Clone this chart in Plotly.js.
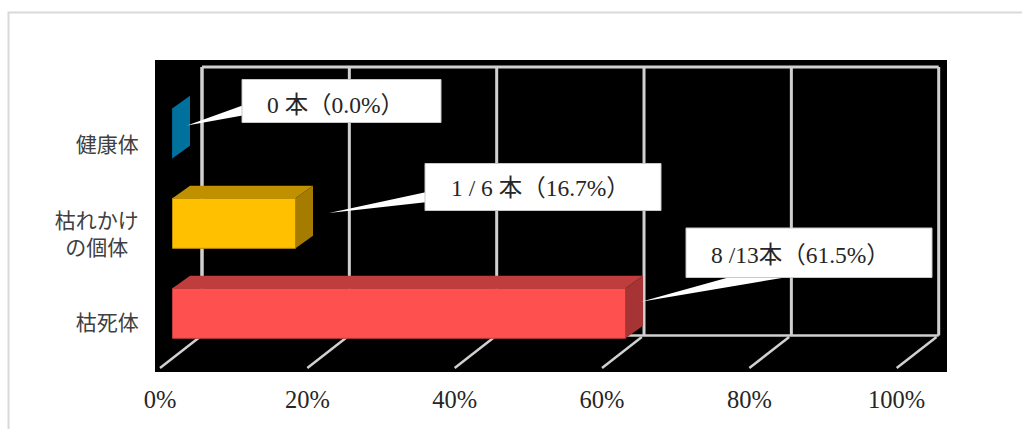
<!DOCTYPE html>
<html><head><meta charset="utf-8">
<script src="https://cdn.plot.ly/plotly-3.0.1.min.js"></script>
<style>html,body{margin:0;padding:0;background:#fff;overflow:hidden}</style>
</head><body><div id="chart" style="width:1022px;height:429px"></div>
<script>
const categories = ["枯死体", "枯れかけ<br>の個体\u2002", "健康体"];
const values = [61.5, 16.7, 0];
const frontColors = ["#FF5050", "#FFC000", "#00709C"];
const topColors = ["#BF3D3D", "#BF9000", "#005A7E"];
const sideColors = ["#A63434", "#A67C00", "#00709C"];
const tickValues = [0, 20, 40, 60, 80, 100];
const tickLabels = ["0%", "20%", "40%", "60%", "80%", "100%"];
const calloutTexts = ["0 本（0.0%）", "1 / 6 本（16.7%）", "8 /13本（61.5%）"];

// plot frame in page pixels
const L = 155, R = 947, T = 60, B = 372, W = 1022, H = 429;
const px = x => (x - L) / (R - L);
const py = y => (B - y) / (B - T);
const pxPerPct = 7.367;
const rangeFor = zeroPx => [(L - zeroPx) / pxPerPct, (R - zeroPx) / pxPerPct];
const depthX = 17.5 / pxPerPct, depthY = 12.5 / 90, half = 25 / 90;
const grid = "#D0D0D0";

const shapes = [];
// outer chart frame
shapes.push({type: "rect", xref: "paper", yref: "paper", x0: px(8.5), x1: px(1040), y0: py(12.5), y1: py(445), line: {color: "#D9D9D9", width: 2}, fillcolor: "rgba(0,0,0,0)", layer: "below"});
// back wall and floor
tickValues.forEach(v => {
  shapes.push({type: "line", layer: "below", xref: "x3", yref: "paper", x0: v, x1: v, y0: py(67), y1: py(335.5), line: {color: grid, width: (v === 0 ? 3.5 : 3)}});
});
[67, 335.5].forEach(y => shapes.push({type: "line", layer: "below", xref: "x3", yref: "paper", x0: 0, x1: 100, y0: py(y), y1: py(y), line: {color: grid, width: y === 67 ? 3 : 2.5}}));
// floor diagonals run from the label axis to the wall
const toWall = v => (v * pxPerPct + 202 - 160) / pxPerPct;
tickValues.forEach(v => shapes.push({type: "line", layer: "below", xref: "x", yref: "paper", x0: v, x1: toWall(v) - 0.3, y0: py(368), y1: py(337), line: {color: grid, width: 2.5}}));
// 3D faces of the bars
values.forEach((v, i) => {
  const t = i + half, b = i - half;
  shapes.push({type: "path", layer: "above", xref: "x2", yref: "y2", line: {width: 0}, fillcolor: topColors[i],
    path: `M0,${t} L${v},${t} L${v + depthX},${t + depthY} L${depthX},${t + depthY} Z`});
  shapes.push({type: "path", layer: "above", xref: "x2", yref: "y2", line: {width: 0}, fillcolor: sideColors[i],
    path: `M${v},${b} L${v},${t} L${v + depthX},${t + depthY} L${v + depthX},${b + depthY} Z`});
});
// callout boxes and pointers (page pixels)
const boxes = [[242, 441, 79.5, 122.5], [425, 661, 163.5, 210.5], [686, 932, 228, 277.5]];
const pointers = [[[187, 125.5], [242.5, 105.5], [242.5, 115.5]], [[329, 213], [425.5, 192.3], [425.5, 202.3]], [[641, 301.7], [730, 277], [788, 277]]];
const textPos = [[265, 105], [449, 188], [709, 255]];
pointers.forEach(p => shapes.push({type: "path", layer: "above", xref: "paper", yref: "paper", fillcolor: "#FFFFFF", line: {width: 0},
  path: `M${px(p[0][0])},${py(p[0][1])} L${px(p[1][0])},${py(p[1][1])} L${px(p[2][0])},${py(p[2][1])} Z`}));
boxes.forEach(b => shapes.push({type: "rect", layer: "above", xref: "paper", yref: "paper", fillcolor: "#FFFFFF", line: {color: "#C8C8C8", width: 1},
  x0: px(b[0]), x1: px(b[1]), y0: py(b[2]), y1: py(b[3])}));

const annotations = calloutTexts.map((t, i) => ({text: t, xref: "paper", yref: "paper", x: px(textPos[i][0]), y: py(textPos[i][1]),
  xanchor: "left", yanchor: "middle", showarrow: false, font: {family: '"Liberation Serif","Noto Sans CJK JP"', size: 23.5, color: "#262626"}}));

const data = [
  {type: "bar", orientation: "h", x: values, y: categories, xaxis: "x2", yaxis: "y2",
   marker: {color: frontColors, line: {color: topColors, width: 1}}, hoverinfo: "skip"},
  {type: "scatter", mode: "markers", x: [], y: [], xaxis: "x", yaxis: "y", hoverinfo: "skip"},
  {type: "scatter", mode: "markers", x: [], y: [], xaxis: "x3", yaxis: "y", hoverinfo: "skip"}
];
const layout = {
  width: W, height: H, paper_bgcolor: "#FFFFFF", plot_bgcolor: "#000000", showlegend: false, hovermode: false,
  margin: {l: L, r: W - R, t: T, b: H - B, pad: 0}, bargap: 0.444,
  xaxis: {range: rangeFor(160), tickmode: "array", tickvals: tickValues, ticktext: tickLabels, showgrid: false, zeroline: false, showline: false,
    ticks: "outside", ticklen: 6, tickcolor: "rgba(0,0,0,0)", tickfont: {family: '"Liberation Serif"', size: 24.5, color: "#262626"}, anchor: "y"},
  xaxis2: {range: rangeFor(172.5), overlaying: "x", visible: false, anchor: "y2"},
  xaxis3: {range: rangeFor(202), overlaying: "x", visible: false, anchor: "y"},
  yaxis: {range: [-(B - 323) / 89, 2 + (145 - T) / 89], tickmode: "array", tickvals: [0, 1, 2], ticktext: categories, showgrid: false, zeroline: false, showline: false,
    ticks: "outside", ticklen: 11, tickcolor: "rgba(0,0,0,0)", tickfont: {family: '"Noto Sans CJK JP"', size: 21, color: "#404040"}},
  yaxis2: {type: "category", categoryorder: "array", categoryarray: categories, range: [-(B - 313.3) / 90, 2 + (133.3 - T) / 90], overlaying: "y", visible: false, anchor: "x2"},
  shapes, annotations
};
Plotly.newPlot("chart", data, layout, {staticPlot: true, displayModeBar: false});
</script></body></html>
